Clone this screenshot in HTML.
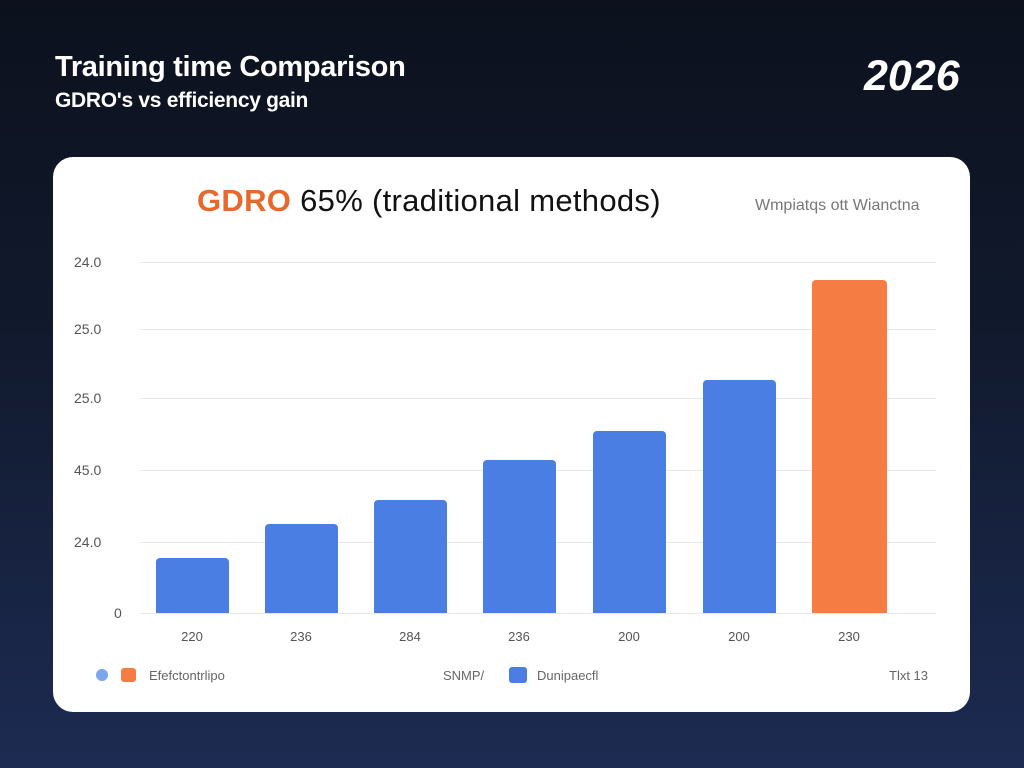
<!DOCTYPE html>
<html><head><meta charset="utf-8"><style>
*{margin:0;padding:0;box-sizing:border-box}
body{width:1024px;height:768px;overflow:hidden;background:linear-gradient(180deg,#0c111d 0%,#111a2e 45%,#1d2b52 100%);font-family:"Liberation Sans",sans-serif;position:relative}
.a{position:absolute;white-space:nowrap}
.t1{left:55px;top:51px;color:#fff;font-size:29px;font-weight:bold;letter-spacing:-0.3px}
.t2{left:55px;top:89px;color:#fff;font-size:21px;font-weight:bold;letter-spacing:-0.3px}
.yr{left:864px;top:52px;color:#fff;font-size:43px;font-weight:bold;font-style:italic}
.card{left:53px;top:157px;width:917px;height:555px;background:#fff;border-radius:20px}
.g{height:1px;background:#e6e8ec;left:140px;width:796px}
.yl{left:74px;width:55px;font-size:14px;color:#555}
.bar{border-radius:4px 4px 0 0;background:#4a7ee2}
.xl{font-size:13px;color:#555;width:80px;text-align:center;top:629px}
.lg{font-size:13px;color:#666;top:668px}
</style></head><body>
<div class="a t1">Training time Comparison</div>
<div class="a t2">GDRO's vs efficiency gain</div>
<div class="a yr">2026</div>
<div class="a card"></div>
<div class="a" style="left:197px;top:183px;font-size:31px;color:#111;letter-spacing:0.3px"><span style="color:#e8682c;font-weight:bold">GDRO</span> 65% (traditional methods)</div>
<div class="a" style="left:755px;top:197px;font-size:16px;color:#777">Wmpiatqs ott Wianctna</div>
<div class="a g" style="top:262px"></div>
<div class="a g" style="top:329px"></div>
<div class="a g" style="top:398px"></div>
<div class="a g" style="top:470px"></div>
<div class="a g" style="top:542px"></div>
<div class="a g" style="top:613px"></div>
<div class="a yl" style="top:254px">24.0</div>
<div class="a yl" style="top:321px">25.0</div>
<div class="a yl" style="top:390px">25.0</div>
<div class="a yl" style="top:462px">45.0</div>
<div class="a yl" style="top:534px">24.0</div>
<div class="a yl" style="top:605px;left:114px">0</div>
<div class="a bar" style="left:156px;top:558px;width:73px;height:55px"></div>
<div class="a bar" style="left:265px;top:524px;width:73px;height:89px"></div>
<div class="a bar" style="left:374px;top:500px;width:73px;height:113px"></div>
<div class="a bar" style="left:483px;top:460px;width:73px;height:153px"></div>
<div class="a bar" style="left:593px;top:431px;width:73px;height:182px"></div>
<div class="a bar" style="left:703px;top:380px;width:73px;height:233px"></div>
<div class="a bar" style="left:812px;top:280px;width:75px;height:333px;background:#f57c42"></div>
<div class="a xl" style="left:152px">220</div>
<div class="a xl" style="left:261px">236</div>
<div class="a xl" style="left:370px">284</div>
<div class="a xl" style="left:479px">236</div>
<div class="a xl" style="left:589px">200</div>
<div class="a xl" style="left:699px">200</div>
<div class="a xl" style="left:809px">230</div>
<div class="a" style="left:96px;top:669px;width:12px;height:12px;border-radius:50%;background:#7aa6ee"></div>
<div class="a" style="left:121px;top:668px;width:15px;height:14px;border-radius:3px;background:#f57c42"></div>
<div class="a lg" style="left:149px">Efefctontrlipo</div>
<div class="a lg" style="left:443px">SNMP/</div>
<div class="a" style="left:509px;top:667px;width:18px;height:16px;border-radius:3px;background:#4a7ee2"></div>
<div class="a lg" style="left:537px">Dunipaecfl</div>
<div class="a lg" style="left:889px">Tlxt 13</div>
</body></html>
